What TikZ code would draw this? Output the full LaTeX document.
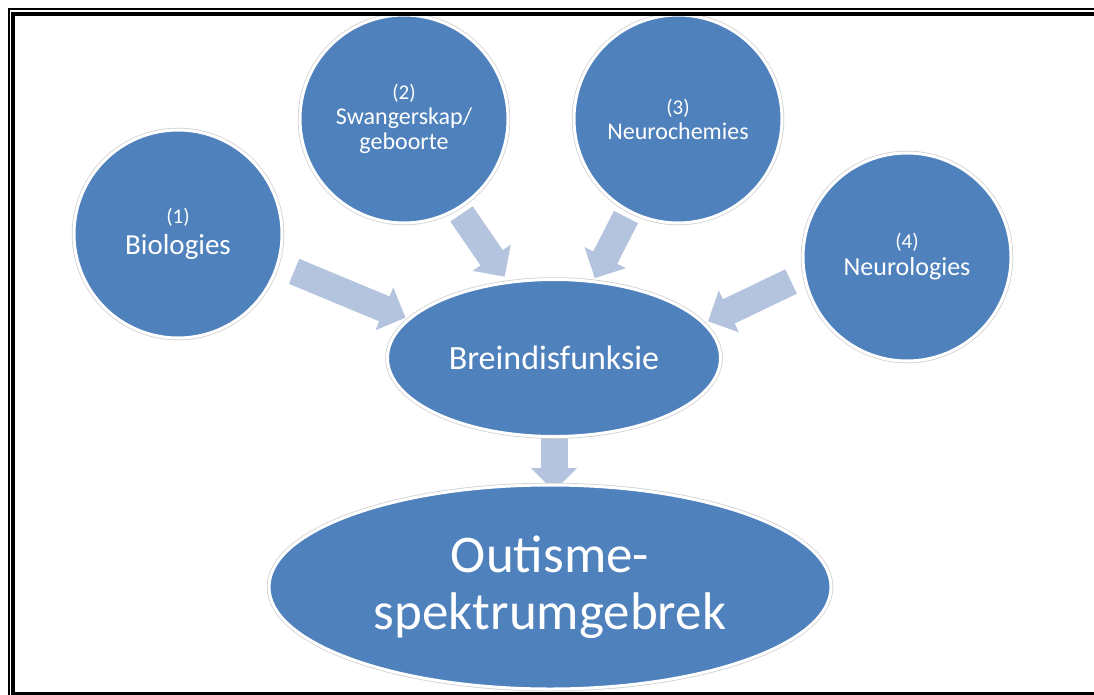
\documentclass[tikz,border=0pt]{standalone}
\usepackage{fontspec}
\setmainfont{Carlito}
\usetikzlibrary{positioning, arrows.meta, shapes.geometric, backgrounds}
\definecolor{bubbleblue}{RGB}{79,129,189}
\definecolor{flowblue}{RGB}{180,196,222}
\definecolor{rimgray}{RGB}{208,208,208}
\newcommand{\numtag}[1]{{\fontsize{21}{23}\selectfont(#1)}}

\begin{document}
\begin{tikzpicture}[x=1pt, y=-1pt,
    bubble/.style={circle, fill=bubbleblue, draw=white, line width=3pt,
      preaction={draw=rimgray, line width=4.5pt}, text=white, align=center,
      inner sep=0pt, outer sep=0pt, minimum size=208pt,
      font=\fontsize{24}{25}\selectfont},
    oval/.style={ellipse, fill=bubbleblue, draw=white, line width=3pt,
      preaction={draw=rimgray, line width=4.5pt}, text=white, align=center,
      inner sep=0pt, outer sep=0pt},
    flow/.style={draw=flowblue, line width=27pt,
      -{Triangle[width=45pt, length=23pt]}}]
  \useasboundingbox (0,0) rectangle (1094,695);
  % Causes
  \node[bubble, font=\fontsize{29}{31}\selectfont] (bio) at (178,234) {\numtag{1}\\Biologies};
  \node[bubble] (preg) at (404,119) {\numtag{2}\\Swangerskap/\\geboorte};
  \node[bubble] (chem) at (678,119) {\numtag{3}\\Neurochemies};
  \node[bubble, font=\fontsize{26}{27}\selectfont] (neuro) at (907,257) {\numtag{4}\\Neurologies};
  % Result
  \node[oval, minimum width=333pt, minimum height=157pt,
    font=\fontsize{34}{40}\selectfont] (brein) at (554,358) {Breindisfunksie};
  \node[oval, minimum width=562pt, minimum height=204pt,
    font=\fontsize{53}{57}\selectfont] (asd) at (550,587) {Outisme-\\spektrumgebrek};
  % Arrows
  \begin{scope}[on background layer]
    \fill[white] (0,0) rectangle (1094,695);
    \draw[flow, shorten <=18pt, shorten >=4pt] (bio.-17) -- (brein.165);
    \draw[flow, shorten <=7pt, shorten >=7pt] (preg.-59) -- (brein.121);
    \draw[flow, shorten <=7pt, shorten >=4pt] (chem.-118) -- (brein.63);
    \draw[flow, shorten <=15pt, shorten >=5pt] (neuro.190) -- (brein.13);
    \draw[flow, shorten >=-6pt] (brein.south) -- (brein.south |- asd.north);
  \end{scope}
  % Frame
  \begin{scope}
    \clip (0,0) rectangle (1094,695);
    \draw[line width=2pt] (9,9) rectangle (1110,710);
    \draw[line width=4pt] (13,14) rectangle (1098,694);
  \end{scope}
\end{tikzpicture}
\end{document}
